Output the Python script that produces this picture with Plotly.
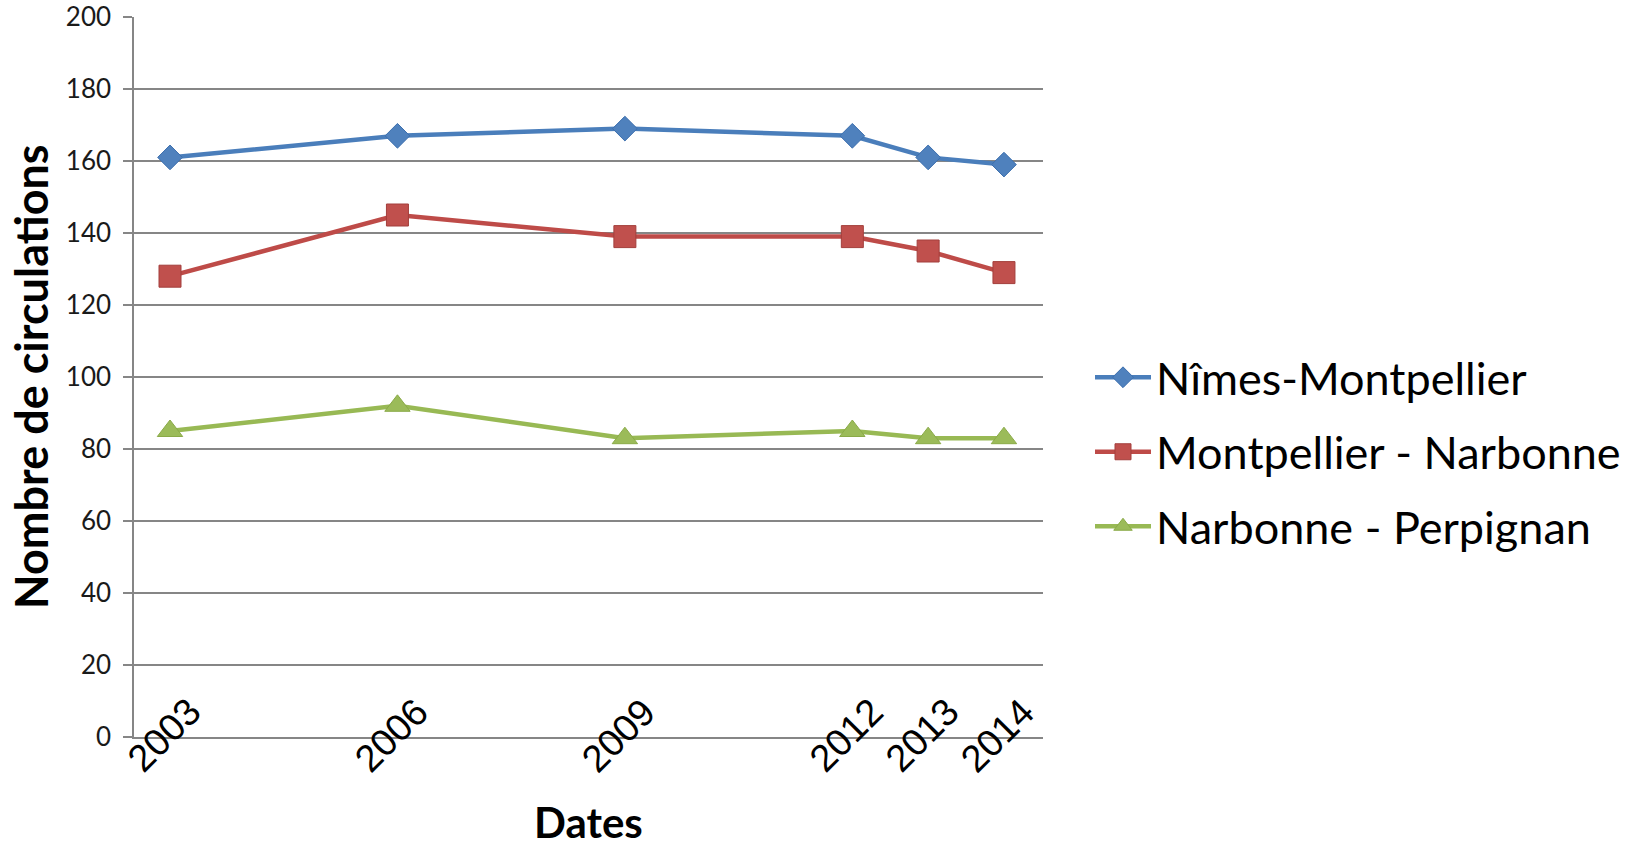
import plotly.graph_objects as go

# Years on the date axis and number of train runs per line section
years = [2003, 2006, 2009, 2012, 2013, 2014]
nimes_montpellier = [161, 167, 169, 167, 161, 159]
montpellier_narbonne = [128, 145, 139, 139, 135, 129]
narbonne_perpignan = [85, 92, 83, 85, 83, 83]

series_names = ["Nîmes-Montpellier", "Montpellier - Narbonne", "Narbonne - Perpignan"]
y_ticks = list(range(0, 201, 20))

W, H = 1635, 846
L, R, T, B = 134, 592, 17, 109

GRID = "#868686"
TEXT_FONT = "Lato"

styles = [
    dict(line="#4A7EBB", fill="#4F81BD", edge="#3C6FAE", symbol="diamond", size=19),
    dict(line="#BE4B48", fill="#C0504D", edge="#A33F3C", symbol="square", size=22),
    dict(line="#98B954", fill="#9BBB59", edge="#8AAA48", symbol="triangle-up", size=22),
]

fig = go.Figure()
for name, values, st in zip(series_names,
                            [nimes_montpellier, montpellier_narbonne, narbonne_perpignan],
                            styles):
    fig.add_trace(go.Scatter(
        x=years, y=values, name=name, legendgroup=name,
        mode="lines+markers",
        line=dict(color=st["line"], width=4.5),
        marker=dict(symbol=st["symbol"], size=st["size"], color=st["fill"],
                    line=dict(color=st["edge"], width=1)),
    ))

# Rotated year labels under the axis
for yr in years:
    fig.add_annotation(
        x=yr, y=0, xref="x", yref="y", text=str(yr), showarrow=False,
        textangle=-45, xanchor="center", yanchor="middle",
        xshift=-6, yshift=2,
        font=dict(family="Liberation Sans", size=38, color="#000000"),
    )

# Axis titles
fig.add_annotation(
    x=0.5, y=0, xref="paper", yref="paper", text="<b>Dates</b>", showarrow=False,
    xanchor="center", yanchor="middle", yshift=-85,
    font=dict(family=TEXT_FONT, size=42, color="#000000"),
)
fig.add_annotation(
    x=0, y=0.5, xref="paper", yref="paper", text="<b>Nombre de circulations</b>",
    showarrow=False, textangle=-90, xanchor="center", yanchor="middle", xshift=-103,
    font=dict(family=TEXT_FONT, size=45, color="#000000"),
)

fig.update_layout(
    width=W, height=H,
    margin=dict(l=L, r=R, t=T, b=B, autoexpand=False),
    paper_bgcolor="white", plot_bgcolor="white",
    showlegend=True,
    legend=dict(
        x=(1090 - L) / (W - L - R), y=(H - B - 452) / (H - T - B),
        xanchor="left", yanchor="middle",
        font=dict(family=TEXT_FONT, size=45, color="#000000"),
        tracegroupgap=13, itemwidth=56,
        bgcolor="rgba(0,0,0,0)",
    ),
    xaxis=dict(
        range=[2002.525, 2014.515], showgrid=False, zeroline=False,
        showticklabels=False, ticks="", showline=True, linecolor=GRID, linewidth=1.5,
    ),
    yaxis=dict(
        range=[0, 200], tickvals=y_ticks, ticktext=[str(v) for v in y_ticks],
        showgrid=True, gridcolor=GRID, gridwidth=1.5, zeroline=False,
        showline=True, linecolor=GRID, linewidth=1.5,
        ticks="outside", ticklen=9, tickcolor=GRID, tickwidth=1.5,
        ticklabelstandoff=7,
        tickfont=dict(family=TEXT_FONT, size=26, color="#1a1a1a"),
    ),
)

fig.write_html("out.html")
